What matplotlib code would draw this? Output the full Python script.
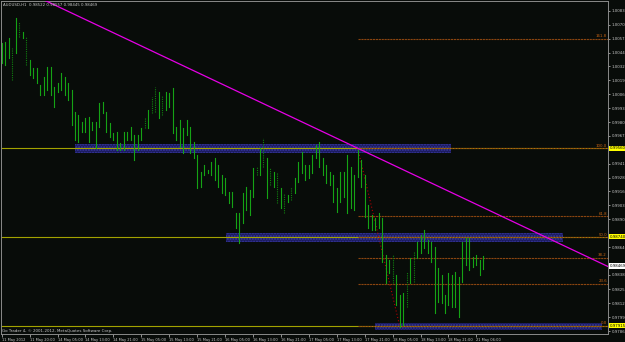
# AUDUSD H1 bar chart, MetaTrader style (black background, green bars,
# fibo levels, trend line, support/resistance boxes)

import matplotlib.pyplot as plt
import matplotlib.patches as patches
import numpy as np

# ---- data ----
highs = [1.00535, 1.00545, 1.00582, 1.00489, 1.00767, 1.00730, 1.00637, 1.00591, 1.00378, 1.00304,
         1.00304, 1.00146, 1.00220, 1.00313, 1.00313, 1.00127, 1.00165, 1.00257, 1.00220, 1.00165,
         1.00100, 0.99896, 0.99868, 0.99803, 0.99840, 0.99849, 0.99803, 0.99803, 0.99979, 0.99988,
         0.99896, 0.99794, 0.99701, 0.99710, 0.99608, 0.99710, 0.99710, 0.99757, 0.99683, 0.99683,
         0.99747, 0.99840, 0.99914, 1.00035, 1.00127, 1.00081, 1.00053, 1.00081, 1.00072, 1.00118,
         0.99757, 0.99822, 0.99747, 0.99822, 0.99757, 0.99618, 0.99497, 0.99340, 0.99404, 0.99358,
         0.99432, 0.99469, 0.99404, 0.99312, 0.99284, 0.99154, 0.99154, 0.98960, 0.98960, 0.99145,
         0.99200, 0.99173, 0.99377, 0.99386, 0.99562, 0.99655, 0.99469, 0.99377, 0.99340, 0.99330,
         0.99191, 0.99145, 0.99126, 0.99200, 0.99284, 0.99432, 0.99525, 0.99404, 0.99404, 0.99497,
         0.99590, 0.99618, 0.99469, 0.99404, 0.99340, 0.99312, 0.99191, 0.99340, 0.99340, 0.99497,
         0.99386, 0.99312, 0.99560, 0.99451, 0.99312, 0.99034, 0.98941, 0.98913, 0.98960, 0.98913,
         0.98570, 0.98524, 0.98570, 0.98385, 0.98199, 0.98218, 0.98413, 0.98542, 0.98598, 0.98691,
         0.98756, 0.98802, 0.98709, 0.98691, 0.98644, 0.98450, 0.98385, 0.98199, 0.98403, 0.98385,
         0.98413, 0.98366, 0.98691, 0.98728, 0.98728, 0.98552, 0.98570, 0.98524, 0.98557]
lows = [1.00350, 1.00331, 1.00396, 1.00192, 1.00443, 1.00591, 1.00582, 1.00331, 1.00239, 1.00211,
        1.00165, 1.00053, 1.00053, 1.00100, 1.00053, 0.99942, 1.00081, 1.00100, 1.00053, 1.00007,
        0.99775, 0.99636, 0.99618, 0.99710, 0.99710, 0.99618, 0.99729, 0.99562, 0.99757, 0.99887,
        0.99710, 0.99664, 0.99636, 0.99544, 0.99544, 0.99544, 0.99636, 0.99636, 0.99451, 0.99544,
        0.99636, 0.99747, 0.99747, 0.99887, 0.99896, 0.99840, 0.99868, 0.99914, 0.99942, 0.99701,
        0.99636, 0.99571, 0.99516, 0.99683, 0.99516, 0.99469, 0.99191, 0.99200, 0.99312, 0.99330,
        0.99312, 0.99265, 0.99200, 0.99145, 0.99126, 0.99052, 0.99015, 0.98820, 0.98681, 0.98867,
        0.98987, 0.98941, 0.99108, 0.99312, 0.99312, 0.99386, 0.99099, 0.99219, 0.99200, 0.99052,
        0.99006, 0.98960, 0.99061, 0.99080, 0.99145, 0.99247, 0.99330, 0.99265, 0.99284, 0.99330,
        0.99469, 0.99386, 0.99312, 0.99238, 0.99219, 0.99061, 0.98969, 0.99061, 0.99108, 0.98960,
        0.99006, 0.98987, 0.99293, 0.99200, 0.98922, 0.98820, 0.98802, 0.98802, 0.98820, 0.98505,
        0.98311, 0.98403, 0.98311, 0.98107, 0.97903, 0.97921, 0.98088, 0.98311, 0.98320, 0.98542,
        0.98589, 0.98635, 0.98589, 0.98505, 0.98033, 0.98134, 0.98125, 0.98033, 0.98107, 0.98088,
        0.98088, 0.97995, 0.98320, 0.98477, 0.98431, 0.98459, 0.98477, 0.98385, 0.98445]
# bars that show up in the darker dotted colour
dark_bars = [3, 5, 7, 41, 43, 44, 46, 73, 75, 77, 79, 81, 83, 112, 116, 118]

time_labels = ['11 May 2012', '11 May 20:00', '14 May 05:00', '14 May 13:00', '14 May 21:00',
               '15 May 05:00', '15 May 13:00', '15 May 21:00', '16 May 05:00', '16 May 13:00',
               '16 May 21:00', '17 May 05:00', '17 May 13:00', '17 May 21:00', '18 May 05:00',
               '18 May 13:00', '18 May 21:00', '21 May 06:00']
# scale labels still visible (the ones under the coloured price tags are hidden)
price_ticks = [1.00835, 1.00705, 1.00575, 1.00445, 1.00320, 1.00190, 1.00060, 0.99930, 0.99800,
               0.99675, 0.99415, 0.99285, 0.99160, 0.99030, 0.98900, 0.98640,
               0.98385, 0.98255, 0.98125, 0.97995, 0.97865]

hlines = [0.99560, 0.98740, 0.97915]            # yellow horizontal levels
boxes = [(21, 128.7, 0.99516, 0.99599),          # (bar from, bar to, low, high)
         (64.2, 160.7, 0.98691, 0.98774),
         (106.9, 171.9, 0.97875, 0.97940)]
fib_bar, fib_high, fib_low_bar, fib_low = 102, 0.99560, 114, 0.97915
fib_levels = [161.8, 100.0, 61.8, 50.0, 38.2, 23.6, 0.0]
trend_pts = [(0, 1.01120), (102, 0.99560)]
last_bar = 'AUDUSD,H1  0.98522 0.98557 0.98445 0.98469'
last_close = 0.98469

bg = '#080c09'
plt.rc('font', family='DejaVu Sans', size=3)

fig = plt.figure(figsize=(6.25, 3.42), dpi=100, facecolor=bg)
ax = fig.add_axes([1/625, 8/342, 607/625, 333/342], facecolor=bg)

# boxes drawn as background
for x0, x1, lo, hi in boxes:
    ax.add_patch(patches.Rectangle((x0, lo), x1 - x0, hi - lo, facecolor='#1b1b5e',
                                   edgecolor='#3838a0', hatch='......', lw=0, zorder=1))

# yellow levels
for lv in hlines:
    ax.axhline(lv, color='#a3a300', lw=0.8, zorder=2)

# fibonacci
rng = fib_high - fib_low
for f in fib_levels:
    y = fib_low + rng * f / 100
    ax.plot([fib_bar, 174], [y, y], color='#8a4510', lw=0.8, ls=(0, (2, 0.6)), zorder=3)
    ax.text(173.4, y + 0.00004, '%.1f' % f, color='#c86414', ha='right', va='bottom',
            fontsize=2.8, zorder=6)
ax.plot([fib_bar, fib_low_bar], [fib_high, fib_low], color='#b00000', lw=0.8,
        ls=(0, (1, 2)), zorder=3)

# bars
idx = np.arange(len(highs))
for i in idx:
    if i in dark_bars:
        ax.plot([i, i], [lows[i], highs[i]], color='#10800f', lw=0.8, ls=(0, (1, 1)), zorder=4)
    else:
        ax.plot([i, i], [lows[i], highs[i]], color='#15a315', lw=0.8, zorder=4)

# trend line
(tx0, ty0), (tx1, ty1) = trend_pts
slope = (ty1 - ty0) / (tx1 - tx0)
ax.plot([tx0, 180], [ty0, ty0 + slope * (180 - tx0)], color='#e600e6', lw=0.9, zorder=5)

ax.set_xlim(-0.2, 173.7)
ax.set_ylim(0.97838, 1.00925)

# axes styling
for s in ['top', 'left', 'bottom', 'right']:
    ax.spines[s].set_color('#8a8a8a')
    ax.spines[s].set_linewidth(0.7)
ax.yaxis.tick_right()
ax.set_yticks(price_ticks)
ax.set_yticklabels(['%.5f' % p for p in price_ticks])
ax.tick_params(axis='y', colors='#c8c8c8', length=1.5, width=0.5, pad=1, labelsize=2.8)
ax.set_xticks(np.arange(0, 8 * len(time_labels), 8))
ax.set_xticklabels(time_labels, ha='left')
ax.tick_params(axis='x', colors='#c8c8c8', length=2, width=0.5, pad=0.8, labelsize=2.6)

# highlighted price labels
for lv in hlines:
    ax.text(1.003, lv, '%.5f' % lv, transform=ax.get_yaxis_transform(), va='center',
            ha='left', fontsize=2.8, color='black', zorder=7, clip_on=False,
            bbox=dict(boxstyle='square,pad=0.15', fc='#ffff00', ec='none'))
ax.text(1.003, last_close, '%.5f' % last_close, transform=ax.get_yaxis_transform(),
        va='center', ha='left', fontsize=2.8, color='black', zorder=7, clip_on=False,
        bbox=dict(boxstyle='square,pad=0.15', fc='white', ec='none'))

fig.text(3/625, 1 - 5/342, last_bar, color='#c8c8c8', fontsize=2.8, va='center')
fig.text(2/625, 1 - 331/342, 'Go Trader 4, \u00a9 2001-2012, MetaQuotes Software Corp.',
         color='#c8c8c8', fontsize=2.9, va='center')

plt.savefig('out.png', dpi=100, facecolor=bg)
